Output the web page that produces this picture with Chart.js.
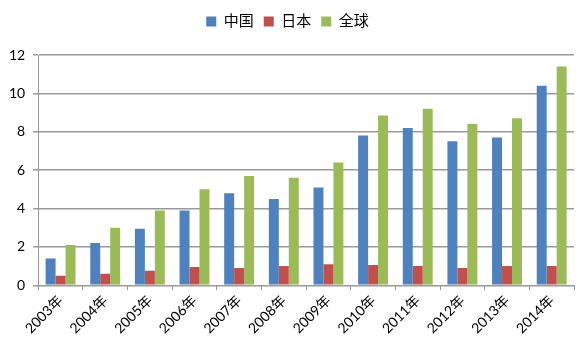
<!DOCTYPE html>
<html><head><meta charset="utf-8">
<script src="https://cdn.jsdelivr.net/npm/chart.js@4/dist/chart.umd.min.js"></script>
<style>html,body{margin:0;padding:0;background:#fff;}#wrap{width:584px;height:358px;}</style>
</head><body><div id="wrap"><canvas id="c" width="584" height="358"></canvas></div>
<script>
const categories = ["2003年","2004年","2005年","2006年","2007年","2008年","2009年","2010年","2011年","2012年","2013年","2014年"];
const seriesNames = ["中国","日本","全球"];
const china = [1.4,2.2,2.95,3.9,4.8,4.5,5.1,7.8,8.2,7.5,7.7,10.4];
const japan = [0.5,0.6,0.75,0.95,0.9,1.0,1.1,1.05,1.0,0.9,1.0,1.0];
const globalVals = [2.1,3.0,3.9,5.0,5.7,5.6,6.4,8.85,9.2,8.4,8.7,11.4];
const yTicks = [0,2,4,6,8,10,12];

const FONT = "Lato, 'Noto Sans CJK SC', sans-serif";
const legendMargin = {
  id: 'legendMargin',
  beforeInit(chart) {
    const orig = chart.legend.fit;
    chart.legend.fit = function() { orig.call(this); this.height += 16; };
  }
};
new Chart(document.getElementById('c'), {
  type: 'bar',
  data: {
    labels: categories,
    datasets: [
      {label: seriesNames[0], data: china, backgroundColor: '#4F81BD'},
      {label: seriesNames[1], data: japan, backgroundColor: '#C0504D'},
      {label: seriesNames[2], data: globalVals, backgroundColor: '#9BBB59'}
    ]
  },
  plugins: [legendMargin],
  options: {
    responsive: false,
    animation: false,
    layout: {padding: {left: 1, right: 10, top: 4, bottom: 19}},
    datasets: {bar: {categoryPercentage: 0.67, barPercentage: 1.0}},
    plugins: {
      tooltip: {enabled: false},
      legend: {
        position: 'top',
        labels: {boxWidth: 10, boxHeight: 10, padding: 10, color: '#000', font: {family: FONT, size: 15}}
      }
    },
    scales: {
      x: {
        offset: true,
        grid: {display: true, drawOnChartArea: false, drawTicks: true, tickLength: 5, color: '#999', offset: true},
        border: {display: true, color: '#999', width: 1},
        ticks: {minRotation: 45, maxRotation: 45, color: '#000', font: {family: FONT, size: 14}, padding: 2}
      },
      y: {
        min: 0, max: 12,
        afterBuildTicks: (s) => { s.ticks = yTicks.map(v => ({value: v})); },
        grid: {color: '#999', lineWidth: 1.5, tickLength: 5},
        border: {display: true, color: '#999', width: 1},
        ticks: {color: '#000', font: {family: FONT, size: 14}, padding: 8}
      }
    }
  }
});
</script></body></html>
